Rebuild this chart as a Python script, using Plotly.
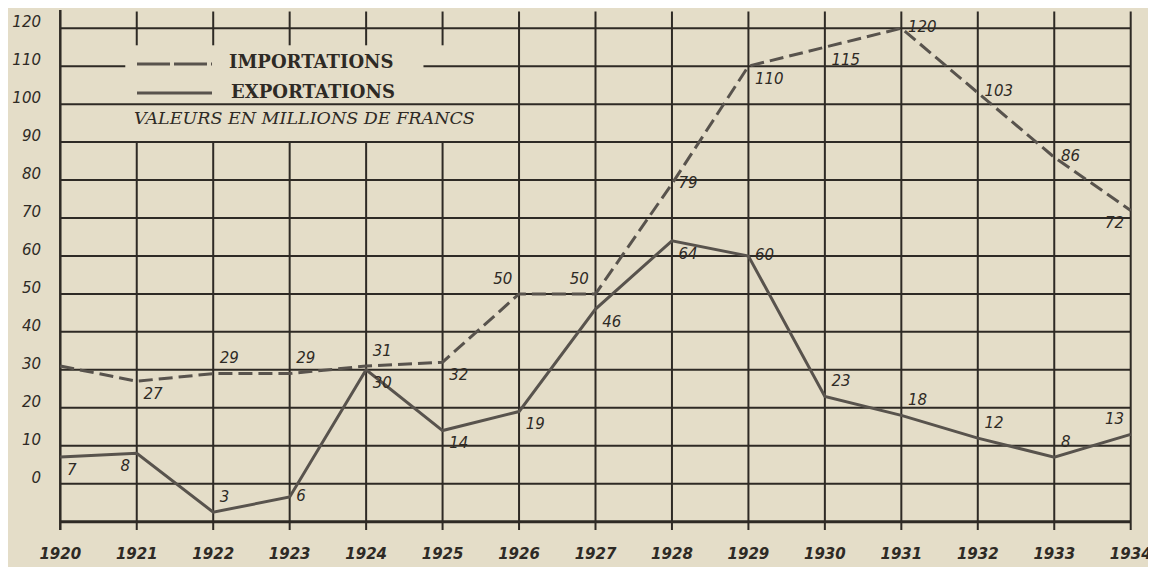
import plotly.graph_objects as go

# ---------------- data ----------------
years = list(range(1920, 1935))
imports = [31, 27, 29, 29, 31, 32, 50, 50, 79, 110, 115, 120, 103, 86, 72]
import_labels = ["", "27", "29", "29", "31", "32", "50", "50", "79", "110", "115", "120", "103", "86", "72"]
# exports as drawn on the chart (1922 and 1923 are drawn below the zero line)
exports = [7, 8, -7.5, -3.5, 30, 14, 19, 46, 64, 60, 23, 18, 12, 7, 13]
export_labels = ["7", "8", "3", "6", "30", "14", "19", "46", "64", "60", "23", "18", "12", "8", "13"]
y_ticks = [0, 10, 20, 30, 40, 50, 60, 70, 80, 90, 100, 110, 120]
y_ticktext = ["0", "10", "20", "30", "40", "50", "60", "70", "80", "90", "100", "110", "120"]
grid_levels = [-10] + y_ticks

# ---------------- styles ----------------
import_textpos = ["top right", "bottom right", "top right", "top right", "top right", "bottom right",
                  "top left", "top left", "middle right", "bottom right", "bottom right",
                  "middle right", "middle right", "middle right", "bottom left"]
export_textpos = ["bottom right", "bottom left", "top right", "middle right", "bottom right",
                  "bottom right", "bottom right", "bottom right", "bottom right", "middle right",
                  "top right", "top right", "top right", "top right", "top left"]

BG = "#e4ddc8"
INK = "#2e2a25"
LINE = "#58534d"
# page body has an 8px margin: the figure is sized to fit the 1156x567 window
W, H = 1148, 559
OFF = 8
ML, MR, MT, MB = 50, 23, 2, 37
XR = [1919.97, 1934.03]
YR = [-12.2, 124.8]


def px(x):
    return (x - OFF - ML) / (W - ML - MR)


def py(y):
    return 1 - (y - OFF - MT) / (H - MT - MB)


fig = go.Figure()

fig.add_trace(go.Scatter(
    x=years, y=imports, mode="lines+markers+text", text=import_labels,
    textposition=import_textpos,
    line=dict(color=LINE, width=3, dash="14px,6px"),
    marker=dict(size=9, color="rgba(0,0,0,0)"),
    textfont=dict(family="DejaVu Sans", size=15, style="italic", color=INK),
    cliponaxis=False, showlegend=False, hoverinfo="skip"))

fig.add_trace(go.Scatter(
    x=years, y=exports, mode="lines+markers+text", text=export_labels,
    textposition=export_textpos,
    line=dict(color=LINE, width=3),
    marker=dict(size=9, color="rgba(0,0,0,0)"),
    textfont=dict(family="DejaVu Sans", size=15, style="italic", color=INK),
    cliponaxis=False, showlegend=False, hoverinfo="skip"))

shapes = []
# horizontal grid lines
for lv in grid_levels:
    w = 3 if lv == -10 else 2
    if lv == 110:
        segs = [(1920, 1920.85), (1924.75, 1934)]
    else:
        segs = [(1920, 1934)]
    for a, b in segs:
        shapes.append(dict(type="line", xref="x", yref="y", x0=a, x1=b, y0=lv, y1=lv,
                           line=dict(color=INK, width=w), layer="below"))
# vertical grid lines
for yr in years:
    if yr == 1920:
        segs = [(-12.6, 125.2)]
        w = 2.5
    elif 1921 <= yr <= 1925:
        segs = [(115.5, 124.4), (-12.2, 90)]
        w = 2
    else:
        segs = [(-12.2, 124.4)]
        w = 2
    for a, b in segs:
        shapes.append(dict(type="line", xref="x", yref="y", x0=yr, x1=yr, y0=a, y1=b,
                           line=dict(color=INK, width=w), layer="below"))

# legend samples
shapes.append(dict(type="line", xref="paper", yref="paper", x0=px(137), x1=px(212),
                   y0=py(64), y1=py(64), line=dict(color=LINE, width=3, dash="33px,4px")))
shapes.append(dict(type="line", xref="paper", yref="paper", x0=px(137), x1=px(212),
                   y0=py(93), y1=py(93), line=dict(color=LINE, width=3)))

annotations = [
    dict(xref="paper", yref="paper", x=px(227), y=py(62), xanchor="left", yanchor="middle",
         text="IMPORTATIONS", showarrow=False,
         font=dict(family="DejaVu Serif", size=18, weight="bold", color=INK)),
    dict(xref="paper", yref="paper", x=px(229), y=py(91), xanchor="left", yanchor="middle",
         text="EXPORTATIONS", showarrow=False,
         font=dict(family="DejaVu Serif", size=18, weight="bold", color=INK)),
    dict(xref="paper", yref="paper", x=px(132), y=py(118), xanchor="left", yanchor="middle",
         text="VALEURS EN MILLIONS DE FRANCS", showarrow=False,
         font=dict(family="DejaVu Serif", size=17.5, style="italic", color=INK)),
]

fig.update_layout(
    width=W, height=H,
    margin=dict(l=ML, r=MR, t=MT, b=MB),
    paper_bgcolor=BG, plot_bgcolor=BG,
    shapes=shapes, annotations=annotations,
    xaxis=dict(range=XR, tickmode="array", tickvals=years, ticktext=[str(y) for y in years],
               showgrid=False, zeroline=False, showline=False, ticks="",
               ticklabelstandoff=13,
               tickfont=dict(family="DejaVu Sans", size=15, style="italic", weight="bold", color=INK)),
    yaxis=dict(range=YR, tickmode="array", tickvals=y_ticks, ticktext=y_ticktext,
               showgrid=False, zeroline=False, showline=False, ticks="",
               ticklabelstandoff=16, ticklabelshift=-6,
               tickfont=dict(family="DejaVu Sans", size=15, style="italic", color=INK)),
)

fig.write_html("out.html")
